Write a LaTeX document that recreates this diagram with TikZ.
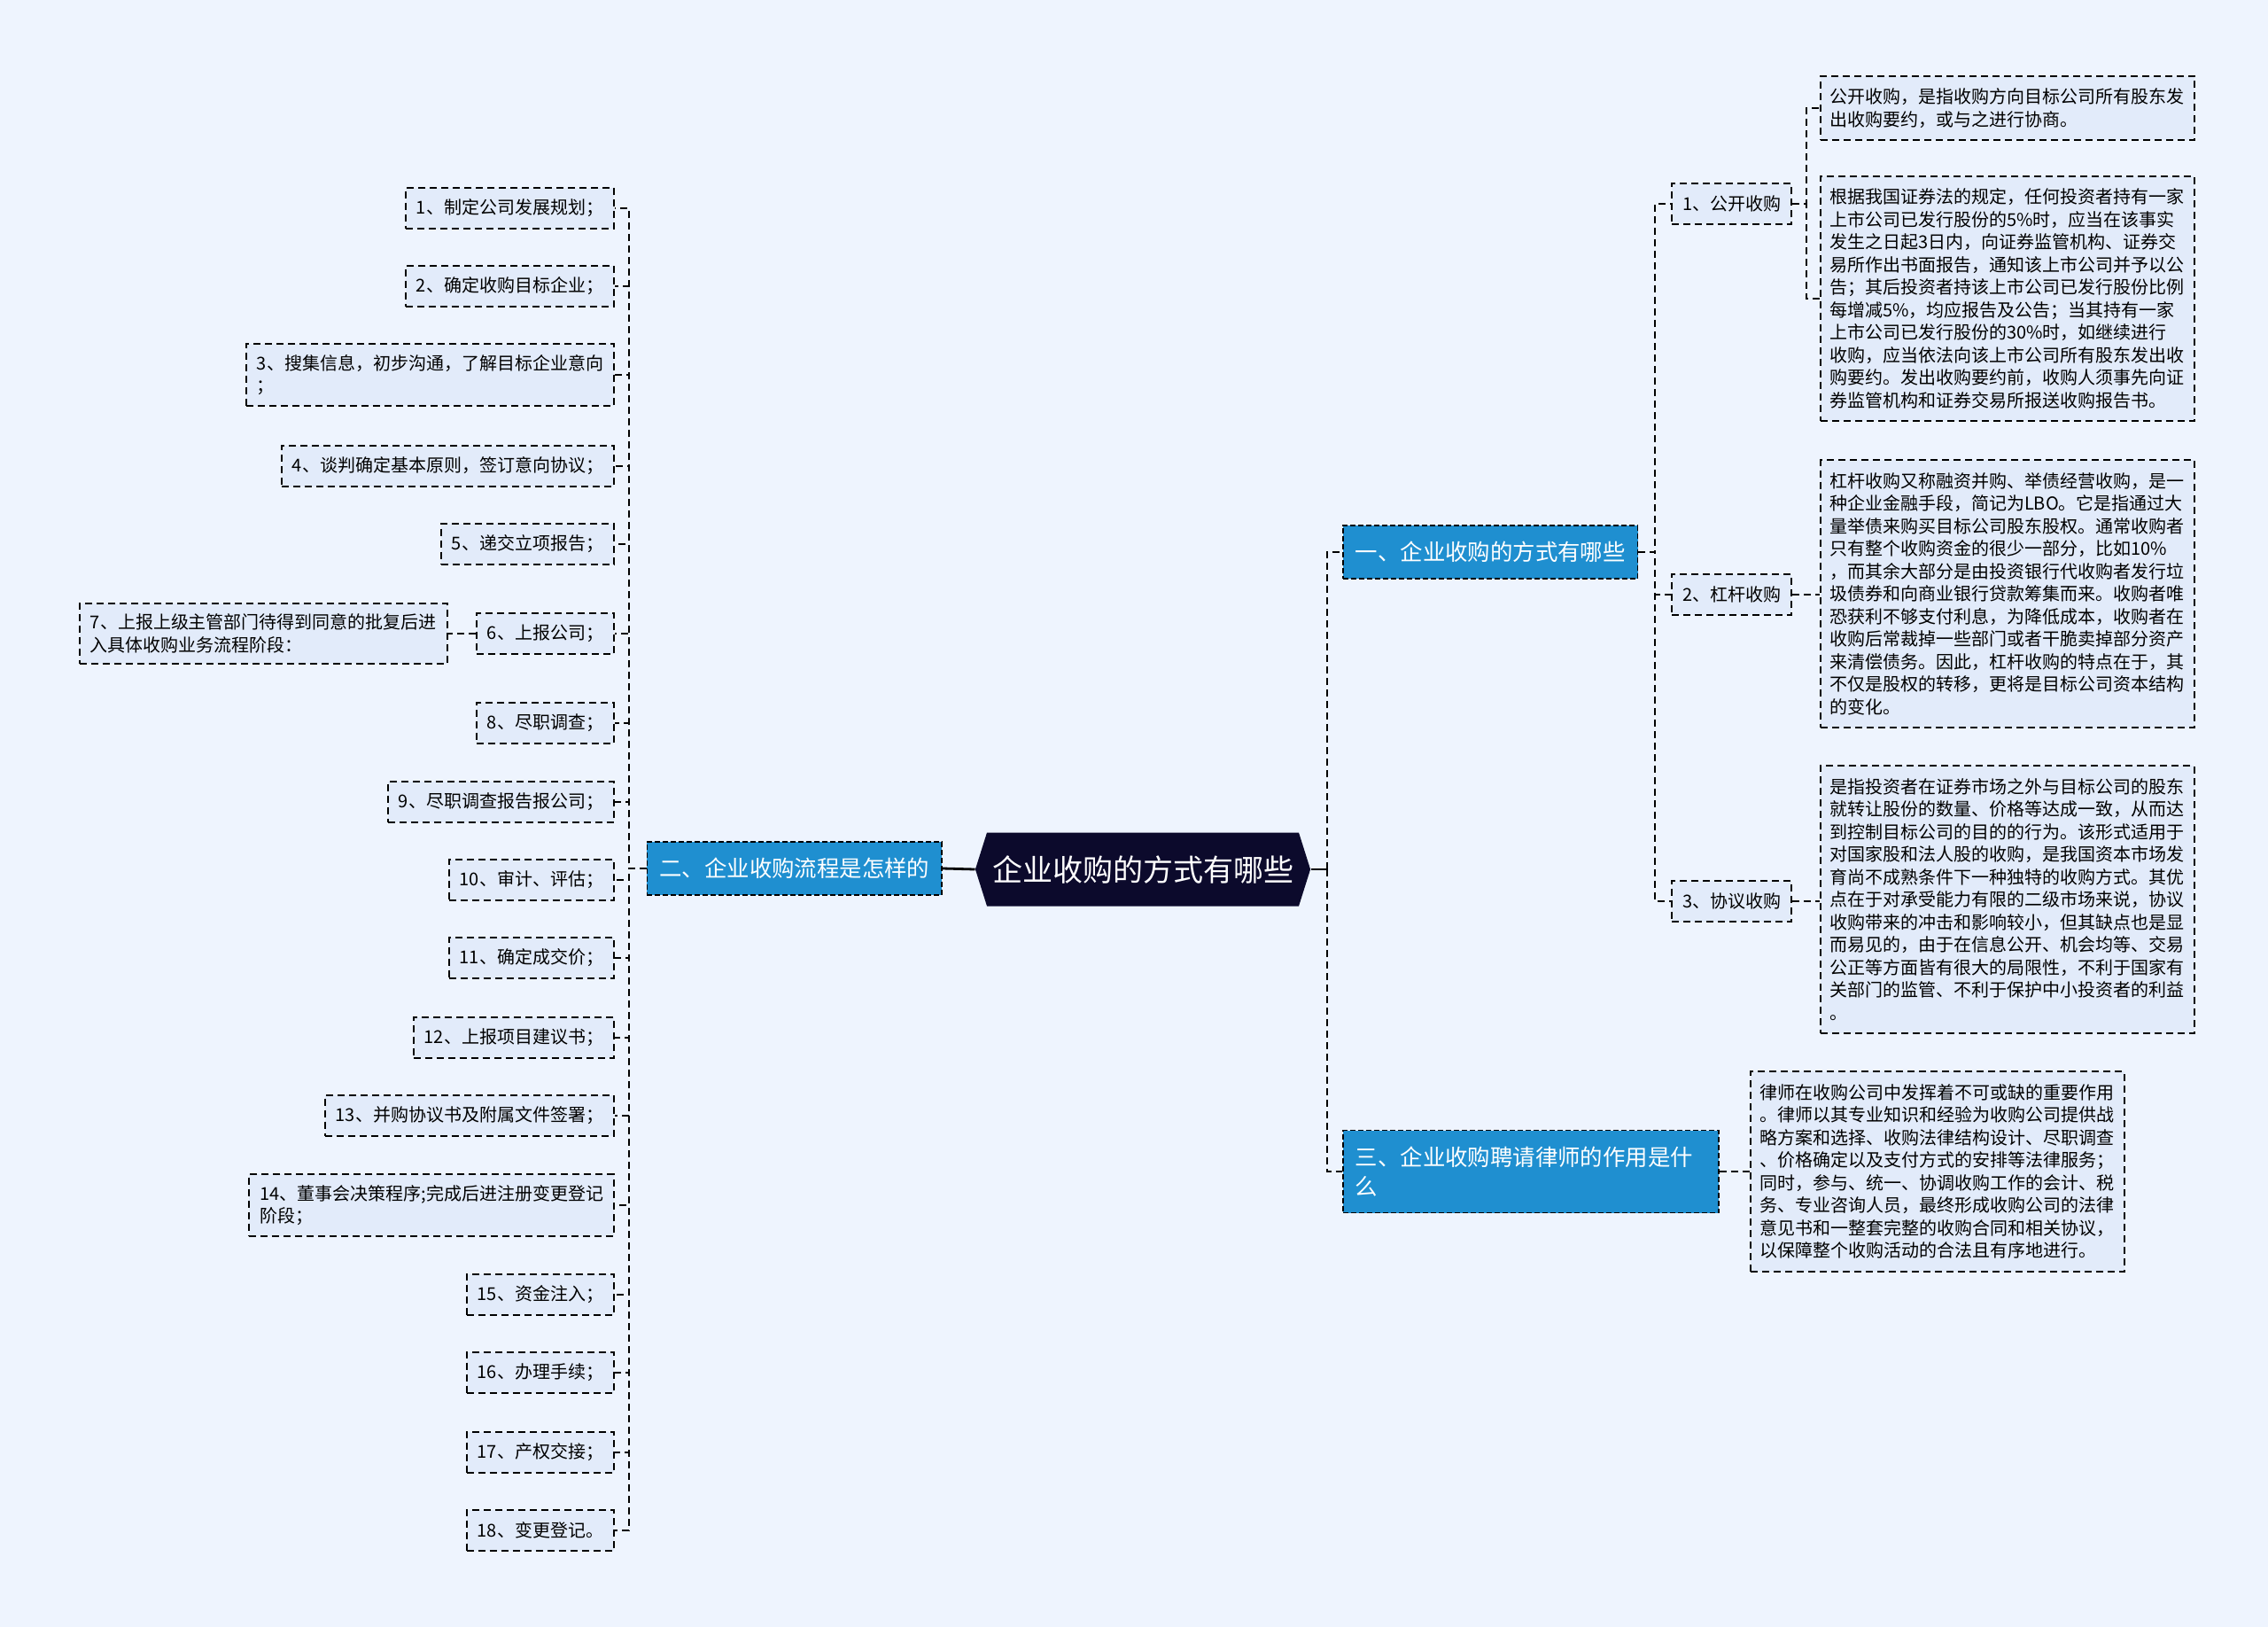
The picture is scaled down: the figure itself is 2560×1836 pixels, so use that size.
\documentclass[tikz,border=0pt]{standalone}
\usepackage{fontspec}
\setmainfont{Noto Sans CJK SC}
\usepackage{xcolor}
\usepackage{tikz}
\usetikzlibrary{shapes.symbols}
\definecolor{paleblue}{HTML}{EEF4FE}
\definecolor{leafblue}{HTML}{E2EBFA}
\definecolor{topicblue}{HTML}{1F8FD0}
\definecolor{rootnavy}{HTML}{0C0A2C}
\tikzstyle{line} = [draw, line width=1pt, dash pattern=on 4pt off 2.5pt]
\tikzstyle{root} = [signal, signal to=east and west, signal pointer angle=145,
    fill=rootnavy, text=white, font=\fontsize{17pt}{20pt}\selectfont,
    minimum height=41.5pt, inner xsep=3pt]
\tikzstyle{topic} = [rectangle, draw, line width=0.8pt, dash pattern=on 3pt off 1.5pt,
    fill=topicblue, text=white, font=\fontsize{12.7pt}{16.5pt}\selectfont,
    minimum height=30pt, inner xsep=7pt, align=left]
\tikzstyle{leaf} = [rectangle, draw, line width=1pt, dash pattern=on 4pt off 2.5pt,
    fill=leafblue, font=\fontsize{10pt}{12.75pt}\selectfont,
    minimum height=23pt, inner xsep=6pt, inner ysep=6pt, align=left]
\tikzstyle{detail} = [leaf, text width=201pt, inner xsep=5pt, inner ysep=7pt]

\begin{document}
\begin{tikzpicture}[x=0.5pt, y=-0.5pt]
      \useasboundingbox (0,0) rectangle (2560,1836);
      \fill [paleblue] (0,0) rectangle (2560,1836);

      % Place nodes
      \node [root] (root) at (1290,981) {企业收购的方式有哪些};
      \node [topic, anchor=west] (one) at (1515,623) {一、企业收购的方式有哪些};
      \node [topic, anchor=east] (two) at (1064,980) {二、企业收购流程是怎样的};
      \node [topic, anchor=west, text width=198pt, minimum height=46.5pt] (three) at (1515,1322)
            {三、企业收购聘请律师的作用是什\\么};

      % ways of acquisition
      \node [leaf, anchor=west] (open) at (1886,230) {1、公开收购};
      \node [leaf, anchor=west] (lever) at (1886,671) {2、杠杆收购};
      \node [leaf, anchor=west] (deal) at (1886,1017) {3、协议收购};

      \node [detail, anchor=west] (openA) at (2054,122) {公开收购，是指收购方向目标公司所有股东发\\
            出收购要约，或与之进行协商。};
      \node [detail, anchor=west] (openB) at (2054,337) {根据我国证券法的规定，任何投资者持有一家\\
            上市公司已发行股份的5\%时，应当在该事实\\
            发生之日起3日内，向证券监管机构、证券交\\
            易所作出书面报告，通知该上市公司并予以公\\
            告；其后投资者持该上市公司已发行股份比例\\
            每增减5\%，均应报告及公告；当其持有一家\\
            上市公司已发行股份的30\%时，如继续进行\\
            收购，应当依法向该上市公司所有股东发出收\\
            购要约。发出收购要约前，收购人须事先向证\\
            券监管机构和证券交易所报送收购报告书。};
      \node [detail, anchor=west] (leverA) at (2054,670) {杠杆收购又称融资并购、举债经营收购，是一\\
            种企业金融手段，简记为LBO。它是指通过大\\
            量举债来购买目标公司股东股权。通常收购者\\
            只有整个收购资金的很少一部分，比如10\%\\
            ，而其余大部分是由投资银行代收购者发行垃\\
            圾债券和向商业银行贷款筹集而来。收购者唯\\
            恐获利不够支付利息，为降低成本，收购者在\\
            收购后常裁掉一些部门或者干脆卖掉部分资产\\
            来清偿债务。因此，杠杆收购的特点在于，其\\
            不仅是股权的转移，更将是目标公司资本结构\\
            的变化。};
      \node [detail, anchor=west] (dealA) at (2054,1015) {是指投资者在证券市场之外与目标公司的股东\\
            就转让股份的数量、价格等达成一致，从而达\\
            到控制目标公司的目的的行为。该形式适用于\\
            对国家股和法人股的收购，是我国资本市场发\\
            育尚不成熟条件下一种独特的收购方式。其优\\
            点在于对承受能力有限的二级市场来说，协议\\
            收购带来的冲击和影响较小，但其缺点也是显\\
            而易见的，由于在信息公开、机会均等、交易\\
            公正等方面皆有很大的局限性，不利于国家有\\
            关部门的监管、不利于保护中小投资者的利益\\
            。};
      \node [detail, anchor=west] (lawyer) at (1975,1322) {律师在收购公司中发挥着不可或缺的重要作用\\
            。律师以其专业知识和经验为收购公司提供战\\
            略方案和选择、收购法律结构设计、尽职调查\\
            、价格确定以及支付方式的安排等法律服务；\\
            同时，参与、统一、协调收购工作的会计、税\\
            务、专业咨询人员，最终形成收购公司的法律\\
            意见书和一整套完整的收购合同和相关协议，\\
            以保障整个收购活动的合法且有序地进行。};

      % process steps
      \node [leaf, anchor=east] (s1) at (694,235) {1、制定公司发展规划；};
      \node [leaf, anchor=east] (s2) at (694,323) {2、确定收购目标企业；};
      \node [leaf, anchor=east] (s3) at (694,423) {3、搜集信息，初步沟通，了解目标企业意向\\；};
      \node [leaf, anchor=east] (s4) at (694,526) {4、谈判确定基本原则，签订意向协议；};
      \node [leaf, anchor=east] (s5) at (694,614) {5、递交立项报告；};
      \node [leaf, anchor=east] (s6) at (694,715) {6、上报公司；};
      \node [leaf, anchor=east] (s7) at (506,715) {7、上报上级主管部门待得到同意的批复后进\\入具体收购业务流程阶段：};
      \node [leaf, anchor=east] (s8) at (694,816) {8、尽职调查；};
      \node [leaf, anchor=east] (s9) at (694,905) {9、尽职调查报告报公司；};
      \node [leaf, anchor=east] (s10) at (694,993) {10、审计、评估；};
      \node [leaf, anchor=east] (s11) at (694,1081) {11、确定成交价；};
      \node [leaf, anchor=east] (s12) at (694,1171) {12、上报项目建议书；};
      \node [leaf, anchor=east] (s13) at (694,1259) {13、并购协议书及附属文件签署；};
      \node [leaf, anchor=east] (s14) at (694,1360) {14、董事会决策程序;完成后进注册变更登记\\阶段；};
      \node [leaf, anchor=east] (s15) at (694,1461) {15、资金注入；};
      \node [leaf, anchor=east] (s16) at (694,1549) {16、办理手续；};
      \node [leaf, anchor=east] (s17) at (694,1639) {17、产权交接；};
      \node [leaf, anchor=east] (s18) at (694,1727) {18、变更登记。};

      % Connect nodes
      \path [line] (root.east) ++(18,0) |- (one.west);
      \path [line] (root.east) ++(18,0) |- (three.west);
      \path [line, solid, line width=1.4pt] (root.east) -- ++(18,0);
      \path [line, solid, line width=1.4pt] (root.west) -- (two.east);

      \path [line] (one.east) -- ++(19,0) |- (open.west);
      \path [line] (one.east) -- ++(19,0) |- (lever.west);
      \path [line] (one.east) -- ++(19,0) |- (deal.west);
      \path [line] (open.east) -- ++(16,0) |- (openA.west);
      \path [line] (open.east) -- ++(16,0) |- (openB.west);
      \path [line] (lever.east) -- (lever.east -| leverA.west);
      \path [line] (deal.east) -- (deal.east -| dealA.west);
      \path [line] (three.east) -- (three.east -| lawyer.west);

      \path [line] (two.west) -- ++(-20,0) |- (s1.east);
      \path [line] (two.west) -- ++(-20,0) |- (s2.east);
      \path [line] (two.west) -- ++(-20,0) |- (s3.east);
      \path [line] (two.west) -- ++(-20,0) |- (s4.east);
      \path [line] (two.west) -- ++(-20,0) |- (s5.east);
      \path [line] (two.west) -- ++(-20,0) |- (s6.east);
      \path [line] (s6.west) -- (s7.east);
      \path [line] (two.west) -- ++(-20,0) |- (s8.east);
      \path [line] (two.west) -- ++(-20,0) |- (s9.east);
      \path [line] (two.west) -- ++(-20,0) |- (s10.east);
      \path [line] (two.west) -- ++(-20,0) |- (s11.east);
      \path [line] (two.west) -- ++(-20,0) |- (s12.east);
      \path [line] (two.west) -- ++(-20,0) |- (s13.east);
      \path [line] (two.west) -- ++(-20,0) |- (s14.east);
      \path [line] (two.west) -- ++(-20,0) |- (s15.east);
      \path [line] (two.west) -- ++(-20,0) |- (s16.east);
      \path [line] (two.west) -- ++(-20,0) |- (s17.east);
      \path [line] (two.west) -- ++(-20,0) |- (s18.east);
\end{tikzpicture}
\end{document}
